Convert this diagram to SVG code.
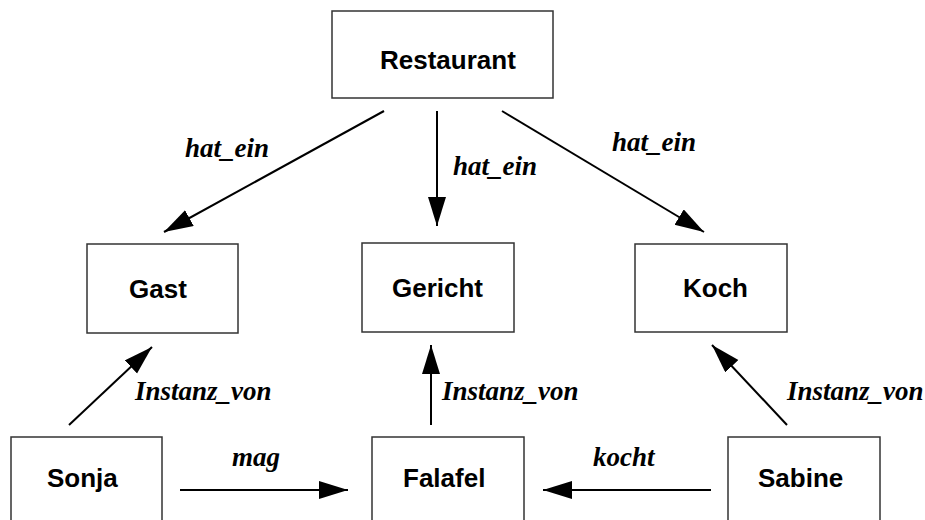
<svg xmlns="http://www.w3.org/2000/svg" width="925" height="520" viewBox="0 0 925 520">
  <style>
    .box { fill: #ffffff; stroke: #333333; stroke-width: 1.5; }
    .name { font-family: "Liberation Sans", Arial, sans-serif; font-weight: bold; font-size: 26px; fill: #000000; }
    .edge { stroke: #000000; stroke-width: 2; fill: none; marker-end: url(#head); }
    .rel { font-family: "Liberation Serif", "Times New Roman", serif; font-weight: bold; font-style: italic; font-size: 27px; fill: #000000; }
  </style>
  <defs>
    <marker id="head" markerUnits="userSpaceOnUse" markerWidth="30" markerHeight="20" refX="29" refY="9" orient="auto">
      <path d="M0,0 L29,9 L0,18 z" fill="#000000"/>
    </marker>
  </defs>
  <rect width="925" height="520" fill="#ffffff"/>

  <g id="connectors">
    <line class="edge" x1="384" y1="111" x2="164" y2="232"/>
    <line class="edge" x1="437" y1="111" x2="437" y2="226"/>
    <line class="edge" x1="502" y1="111" x2="704" y2="232"/>
    <line class="edge" x1="69" y1="425" x2="152" y2="347"/>
    <line class="edge" x1="431" y1="425" x2="431" y2="345"/>
    <line class="edge" x1="787" y1="425" x2="712" y2="345"/>
    <line class="edge" x1="180" y1="490" x2="348" y2="490"/>
    <line class="edge" x1="711" y1="490" x2="543" y2="490"/>
    <text class="rel" x="185" y="157">hat_ein</text>
    <text class="rel" x="453" y="175">hat_ein</text>
    <text class="rel" x="612" y="151">hat_ein</text>
    <text class="rel" x="135" y="400">Instanz_von</text>
    <text class="rel" x="442" y="400">Instanz_von</text>
    <text class="rel" x="787" y="400">Instanz_von</text>
    <text class="rel" x="232" y="466">mag</text>
    <text class="rel" x="593" y="466">kocht</text>
  </g>

  <g id="restaurant">
    <rect class="box" x="332" y="11" width="221" height="87"/>
    <text class="name" x="380" y="69">Restaurant</text>
  </g>
  <g id="gast">
    <rect class="box" x="87" y="244" width="151" height="89"/>
    <text class="name" x="129" y="298">Gast</text>
  </g>
  <g id="gericht">
    <rect class="box" x="362" y="243" width="152" height="89"/>
    <text class="name" x="392" y="297">Gericht</text>
  </g>
  <g id="koch">
    <rect class="box" x="635" y="244" width="152" height="88"/>
    <text class="name" x="683" y="297">Koch</text>
  </g>
  <g id="sonja">
    <rect class="box" x="11" y="437" width="151" height="100"/>
    <text class="name" x="47" y="487">Sonja</text>
  </g>
  <g id="falafel">
    <rect class="box" x="372" y="437" width="152" height="100"/>
    <text class="name" x="403" y="487">Falafel</text>
  </g>
  <g id="sabine">
    <rect class="box" x="728" y="437" width="152" height="100"/>
    <text class="name" x="758" y="487">Sabine</text>
  </g>
</svg>
